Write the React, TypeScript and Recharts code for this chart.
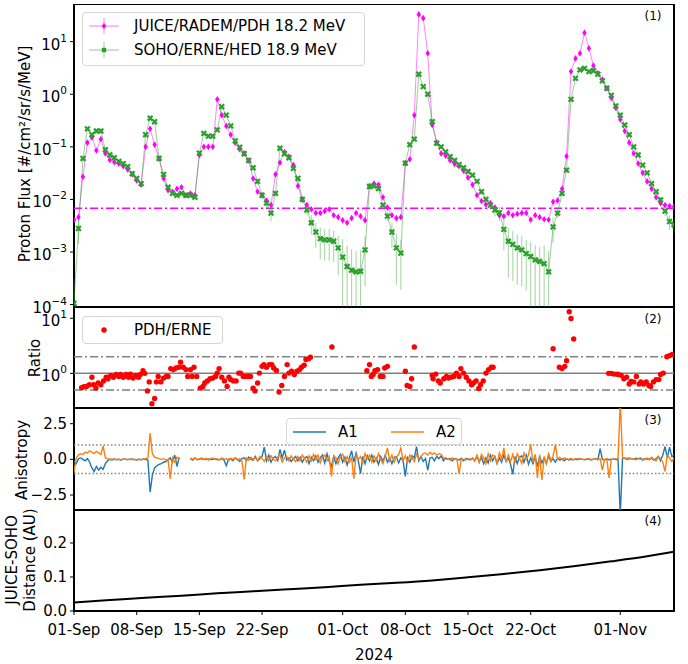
import React from 'react';
import {
  ComposedChart,
  Line,
  Scatter,
  XAxis,
  YAxis,
  ReferenceLine,
  ReferenceArea,
  ErrorBar,
} from 'recharts';

const FONT = '"DejaVu Sans", "Liberation Sans", sans-serif';

// ---------- Panel 1: proton flux ----------
const fluxDays = Array.from({ length: 135 }, (_, i) => i * 0.5); // days since 01-Sep-2024
const pdhFlux = [
  4.1e-3, 4.6e-3, 0.027, 0.12, 0.15, 0.085, 0.14, 0.075, 0.056, 0.051,
  0.048, 0.043, 0.037, 0.03, 0.023, 0.019, 0.1, 0.22, 0.11, 0.06,
  0.025, 0.015, 0.014, 0.016, 0.017, 0.012, 0.013, 0.012, 0.07, 0.1,
  0.1, 0.1, 0.8, 0.4, 0.25, 0.17, 0.12, 0.09, 0.075, 0.055,
  0.025, 0.014, 0.012, 0.0095, 0.0078, 0.03, 0.05, 0.08, 0.065, 0.045,
  0.018, 0.01, 0.0078, 0.0065, 0.0055, 0.0055, 0.006, 0.0065, 0.005, 0.0046,
  0.004, 0.0036, 0.0044, 0.0055, 0.0048, 0.004, 0.018, 0.02, 0.019, 0.011,
  0.007, 0.005, 0.0044, 0.0046, 0.049, 0.058, 0.4, 33, 28, 6,
  0.26, 0.12, 0.075, 0.068, 0.055, 0.047, 0.043, 0.035, 0.026, 0.019,
  0.012, 0.0093, 0.008, 0.0085, 0.007, 0.005, 0.0048, 0.0055, 0.005, 0.0053,
  0.0055, 0.0055, 0.0041, 0.005, 0.0046, 0.0042, 0.0041, 0.009, 0.0095, 0.016,
  0.066, 2.7, 4.8, 6.0, 14.8, 7.5, 3.5, 2.5, 1.9, 1.3,
  0.85, 0.55, 0.33, 0.2, 0.12, 0.075, 0.048, 0.032, 0.022, 0.016,
  0.011, 0.0085, 0.0078, 0.0075, 0.0073,
];
const erneFlux = [
  1.05e-4, 2.8e-3, 0.06, 0.22, 0.17, 0.2, 0.2, 0.088, 0.07, 0.062,
  0.053, 0.048, 0.042, 0.031, 0.025, 0.02, 0.17, 0.35, 0.3, 0.06,
  0.03, 0.017, 0.013, 0.012, 0.013, 0.012, 0.012, 0.011, 0.076, 0.18,
  0.16, 0.16, 0.21, 0.58, 0.4, 0.25, 0.13, 0.098, 0.074, 0.055,
  0.04, 0.022, 0.012, 0.0085, 0.0055, 0.013, 0.094, 0.074, 0.062, 0.039,
  0.025, 0.01, 0.0063, 0.0036, 0.0024, 0.0018, 0.0017, 0.0017, 0.0016, 0.0012,
  8e-4, 5.3e-4, 4.5e-4, 4.2e-4, 4.3e-4, 1.1e-3, 0.0176, 0.018, 0.016, 0.0078,
  0.0048, 0.0024, 0.0012, 9.5e-4, 0.049, 0.11, 0.14, 2.4, 1.4, 1.0,
  0.3, 0.117, 0.1, 0.08, 0.065, 0.055, 0.046, 0.04, 0.034, 0.029,
  0.022, 0.014, 0.01, 0.0078, 0.0063, 0.0056, 0.0027, 0.0016, 0.0014, 0.0012,
  0.0011, 9.3e-4, 8.2e-4, 7.1e-4, 6.6e-4, 6.0e-4, 4.2e-4, 0.003, 0.0055, 0.013,
  0.036, 0.8, 2.0, 2.9, 3.1, 2.7, 2.8, 2.4, 1.8, 1.3,
  0.95, 0.6, 0.4, 0.26, 0.17, 0.1, 0.07, 0.045, 0.032, 0.02,
  0.014, 0.0098, 0.006, 0.0038, 0.0033,
];
const erneRelErr = [
  2, 0.5, 0.05, 0.05, 0.05, 0.05, 0.05, 0.05, 0.05, 0.05,
  0.05, 0.05, 0.05, 0.05, 0.05, 0.05, 0.05, 0.05, 0.05, 0.05,
  0.05, 0.05, 0.05, 0.05, 0.05, 0.05, 0.05, 0.05, 0.05, 0.05,
  0.05, 0.05, 0.05, 0.05, 0.05, 0.05, 0.05, 0.05, 0.05, 0.05,
  0.05, 0.1, 0.15, 0.25, 0.3, 0.1, 0.05, 0.05, 0.05, 0.05,
  0.05, 0.15, 0.2, 0.4, 0.5, 0.6, 0.6, 0.6, 0.6, 0.7,
  1.2, 1.5, 1.5, 1.5, 1.5, 0.8, 0.05, 0.05, 0.05, 0.1,
  0.2, 0.5, 0.8, 0.8, 0.05, 0.05, 0.05, 0.05, 0.05, 0.05,
  0.05, 0.05, 0.05, 0.05, 0.05, 0.05, 0.05, 0.05, 0.05, 0.05,
  0.05, 0.1, 0.15, 0.2, 0.25, 0.3, 0.6, 0.8, 0.8, 0.8,
  0.8, 0.8, 0.9, 0.9, 0.9, 1.2, 1.5, 0.5, 0.2, 0.1,
  0.05, 0.05, 0.05, 0.05, 0.05, 0.05, 0.05, 0.05, 0.05, 0.05,
  0.05, 0.05, 0.05, 0.05, 0.05, 0.05, 0.05, 0.05, 0.05, 0.05,
  0.1, 0.15, 0.2, 0.3, 0.3,
];
const pdhBackground = 0.0068;
const fluxTicks = [1e-4, 1e-3, 1e-2, 1e-1, 1, 10];
const FLUX_MIN = 9e-5;
const FLUX_MAX = 52;

// ---------- Panel 2: ratio ----------
const ratioDays = [
  0.85, 1.1, 1.4, 1.7, 2.0, 2.2, 2.45, 2.7, 3.0, 3.3, 3.6, 3.8, 4.1, 4.4, 4.7, 5.0, 5.2, 5.5, 5.8, 6.1,
  6.3, 6.6, 6.9, 7.2, 7.4, 7.7, 7.9, 8.2, 8.4, 8.7, 9.0, 9.2, 9.4, 9.7, 10.0, 10.3, 10.5, 10.8, 11.1, 11.4,
  11.7, 11.9, 12.2, 12.5, 12.7, 13.0, 13.2, 13.4, 13.7, 14.1, 14.4, 14.6, 14.9, 15.2, 15.5, 15.8, 16.0, 16.2, 16.5, 16.8,
  17.1, 17.3, 17.5, 17.8, 18.1, 18.4, 18.6, 18.9, 19.2, 19.5, 19.7, 20.0, 20.2, 20.5, 20.7, 21.0, 21.2, 21.5, 21.8, 22.1,
  22.3, 22.6, 22.9, 23.2, 23.5, 23.8, 24.0, 24.3, 24.6, 24.9, 25.2, 25.4, 25.7, 25.9, 26.2, 26.4, 28.8,
  32.7, 33.0, 33.2, 33.4, 33.6, 33.9, 34.2, 34.5, 34.7, 35.0,
  37.0, 37.2, 37.5, 37.7, 38.0,
  40.0, 40.1, 40.4, 40.7, 40.9, 41.3, 41.6, 41.8, 42.1, 42.4, 42.7, 43.0, 43.2, 43.5, 43.8, 44.1, 44.4, 44.6, 44.9, 45.2,
  45.4, 45.7, 46.0, 46.3, 46.6, 46.8,
  53.5, 54.2, 54.5, 54.8, 55.0, 55.3, 55.5, 55.8,
  59.7, 60.0, 60.3, 60.6, 60.8, 61.1, 61.4, 61.7, 62.0, 62.2, 62.5, 62.8, 63.1, 63.3, 63.6, 63.9, 64.2, 64.4, 64.7, 65.0,
  65.3, 65.5, 65.8, 66.2, 66.5, 66.8,
];
const ratioValues = [
  0.55, 0.57, 0.58, 0.62, 0.85, 0.62, 0.54, 0.67, 0.62, 0.73, 0.85, 0.8, 0.92, 0.85, 0.95, 0.88, 0.95, 0.85, 0.95, 0.85,
  0.97, 0.82, 0.92, 0.85, 0.95, 1.12, 1.0, 0.48, 0.7, 0.28, 0.35, 0.7, 0.88, 0.7, 0.82, 0.88, 0.88, 1.22, 1.17, 1.25,
  1.29, 1.59, 1.29, 1.17, 0.88, 1.17, 0.88, 1.29, 0.88, 0.54, 0.58, 0.67, 0.73, 0.8, 0.82, 0.88, 1.01, 1.22, 0.85, 0.73,
  0.58, 0.85, 0.77, 0.73, 0.73, 1.01, 1.01, 0.88, 0.88, 0.88, 0.88, 0.54, 0.48, 0.67, 1.01, 1.34, 1.44, 1.29, 1.44, 1.44,
  1.25, 1.13, 0.46, 0.6, 0.88, 1.44, 1.01, 1.09, 0.95, 1.09, 1.17, 1.29, 1.4, 1.78, 1.85, 1.96, 3.0,
  1.12, 1.44, 0.88, 0.95, 1.12, 1.17, 0.88, 0.88, 1.25, 1.34,
  1.09, 0.6, 0.58, 0.8, 3.0,
  0.92, 0.8, 0.97, 0.73, 0.67, 0.8, 0.88, 0.82, 0.85, 0.88, 1.01, 0.88, 1.22, 1.01, 0.85, 0.73, 0.62, 0.67, 0.73, 0.53,
  0.62, 0.73, 1.01, 1.17, 1.29, 1.29,
  2.8, 1.29, 1.22, 1.34, 1.7, 13.1, 9.9, 4.2,
  1.0, 1.0, 0.97, 0.97, 0.95, 0.92, 0.8, 0.85, 0.64, 0.71, 0.7, 0.88, 0.64, 0.7, 0.64, 0.7, 0.6, 0.58, 0.7, 0.77,
  0.77, 0.95, 1.01, 2.0, 2.1, 2.2,
];
const ratioLevelHigh = 2;
const ratioLevelUnity = 1;
const ratioLevelLow = 0.5;
const ratioTicks = [1, 10];
const RATIO_MIN = 0.235;
const RATIO_MAX = 16;

// ---------- Panel 3: anisotropy ----------
const anisoDays = Array.from({ length: 269 }, (_, i) => i * 0.25);
const a1 = [
  -0.1, -0.3, 0.05, 0.1,
  0.0, -0.1, 0.05, -0.2,
  -0.6, -0.85, -0.5, -0.75,
  -0.55, -0.7, -0.3, -0.1,
  0.0, -0.05, 0.02, -0.03,
  0.0, -0.04, 0.02, 0.0,
  -0.03, 0.02, -0.02, 0.0,
  -0.05, 0.0, -0.03, 0.02,
  0.0, -0.05, -2.3, -1.1,
  -0.6, -0.45, -0.35, -0.3,
  -0.2, -0.15, -0.05, 0.1,
  -0.2, 0.3, -0.5, 0.15,
  null, null, null, null,
  0.05, -0.05, 0.08, 0.0,
  0.0, 0.05, -0.02, 0.0,
  0.03, -0.02, 0.0, 0.05,
  -0.03, 0.0, 0.05, -0.05,
  -0.45, 0.0, 0.05, -0.1,
  0.1, 0.0, -0.15, 0.05,
  0.1, -0.1, 0.15, 0.0,
  -0.05, 0.2, -0.1, 0.05,
  0.2, 0.85, -0.1, 0.3,
  -0.2, 0.1, 0.2, -0.1,
  0.7, 0.1, 0.65, -0.05,
  0.1, -0.15, 0.05, 0.2,
  -0.1, 0.15, -0.2, 0.1,
  0.2, -0.3, 0.15, -0.1,
  0.25, -0.2, 0.1, 0.3,
  -0.25, 0.4, -0.15, -0.5,
  0.2, -0.3, 0.1, 0.35,
  -0.2, 0.15, -0.4, 0.1,
  0.6, -0.2, 0.45, -0.1,
  -1.0, 0.2, -0.3, 0.25,
  -0.1, 0.3, -0.2, 0.1,
  -0.35, 0.2, -0.15, 0.3,
  -0.2, 0.1, -0.3, 0.15,
  0.2, -0.25, 0.1, -0.1,
  -1.2, 0.1, -0.2, 0.25,
  0.1, 0.9, -0.1, 0.2,
  -0.15, 0.05, -0.75, 0.1,
  0.15, -0.1, 0.2, 0.05,
  0.25, -0.1, 0.1, 0.0,
  0.05, -0.1, 0.05, 0.0,
  -0.05, 0.08, -0.1, 0.05,
  0.0, -0.05, 0.1, -0.1,
  0.2, -0.2, 0.15, -0.3,
  0.1, -0.25, 0.3, -0.1,
  0.2, -0.3, 0.1, -0.2,
  0.3, -0.15, 0.1, -0.35,
  -1.05, 0.2, -0.3, 0.15,
  0.25, -0.2, 0.3, -0.35,
  0.1, -0.3, 0.2, -0.5,
  0.2, -0.25, 0.1, -0.3,
  0.25, -0.15, 0.05, -0.2,
  0.1, -0.05, 0.05, -0.1,
  0.05, -0.05, 0.0, -0.03,
  0.02, -0.02, 0.05, 0.0,
  -0.03, 0.0, 0.02, -0.05,
  0.0, 0.05, -0.02, 0.75,
  0.0, -0.05, 0.02, -0.03,
  0.0, 0.02, -0.02, 0.0,
  -3.9, 0.05, 0.1, 0.0,
  0.1, 0.05, 0.0, 0.08,
  0.05, 0.1, -0.05, 0.05,
  0.0, 0.05, 0.08, -0.05,
  0.05, 0.2, -0.1, 0.3,
  0.9, 0.1, 0.85, 0.2,
  0.3,
];
const a2 = [
  -0.9, 0.1, 0.3, 0.4,
  0.35, 0.5, 0.45, 0.6,
  0.5, 0.4, 0.55, 0.45,
  0.35, 0.95, 0.1, 0.05,
  0.0, 0.03, -0.02, 0.0,
  0.02, -0.03, 0.0, 0.02,
  0.0, -0.02, 0.03, -0.01,
  0.0, 0.02, -0.03, 0.0,
  0.05, 0.1, 1.85, 0.4,
  0.15, 0.1, 0.05, 0.0,
  0.05, -0.05, 0.0, -1.35,
  0.1, -0.2, 0.15, 0.0,
  null, null, null, null,
  0.1, 0.0, 0.12, -0.05,
  0.05, 0.1, 0.0, 0.08,
  -0.05, 0.05, 0.1, 0.0,
  0.05, -0.05, 0.1, 0.0,
  0.05, -0.1, 0.08, 0.0,
  0.1, -0.05, 0.05, -0.1,
  -1.4, 0.1, -0.05, 0.15,
  0.0, 0.1, -0.1, 0.2,
  0.05, -0.15, 0.2, -0.1,
  0.25, 0.0, -0.1, 0.15,
  0.3, -0.2, 0.1, 0.2,
  -0.1, 0.25, 0.0, -0.15,
  0.2, -0.1, 0.3, 0.05,
  -0.2, 0.25, -0.1, 0.35,
  0.0, 0.3, -0.25, 0.15,
  0.3, -0.1, 0.2, -1.2,
  0.25, 0.1, -0.3, 0.2,
  0.35, -0.15, 0.2, -0.2,
  0.1, -1.35, 0.3, 0.0,
  0.2, -0.25, 0.4, 0.05,
  0.3, -0.2, 0.25, -0.1,
  0.4, 0.0, -0.3, 0.2,
  0.8, -0.1, 0.3, -0.2,
  0.15, 0.35, 0.8, -0.1,
  0.25, -0.2, 0.3, 0.1,
  -0.15, 0.35, 0.05, 0.2,
  0.4, 0.45, 0.3, 0.5,
  0.35, 0.45, 0.3, 0.4,
  0.35, 0.1, 0.0, 0.05,
  -0.05, 0.1, 0.0, 0.05,
  -1.0, 0.05, 0.0, -0.05,
  0.08, 0.0, 0.05, -0.1,
  0.3, -0.2, 0.35, 0.1,
  -0.3, 0.4, -0.1, 0.3,
  0.2, -0.35, 0.45, 0.0,
  0.8, -0.2, 0.3, -0.15,
  0.35, -0.25, 0.4, 0.1,
  -0.3, 0.45, 0.0, 0.3,
  1.05, -0.2, 0.35, -1.3,
  0.3, -1.45, 0.2, -0.3,
  0.4, -0.1, 0.25, 1.05,
  0.0, 0.15, -0.05, 0.1,
  0.05, 0.0, 0.08, -0.03,
  0.03, 0.05, 0.0, 0.02,
  0.0, 0.03, 0.05, 0.0,
  0.02, 0.0, 0.04, 0.05,
  -0.75, 0.0, 0.05, -1.3,
  0.02, 0.0, 0.05, 0.03,
  4.0, 0.15, 0.05, 0.1,
  0.0, 0.05, 0.02, -0.03,
  0.05, 0.0, 0.03, -0.02,
  0.1, -0.05, 0.15, 0.0,
  -0.1, 0.2, 0.05, -0.2,
  -0.85, 0.3, 0.1, -0.15,
  0.1,
];
const anisoLimit = 1;
const anisoTicks = [-2.5, 0, 2.5];
const ANISO_MIN = -3.55;
const ANISO_MAX = 3.6;

// ---------- Panel 4: distance ----------
const distDays = [0, 4, 8, 12, 16, 20, 24, 28, 32, 36, 40, 44, 48, 52, 56, 60, 64, 67];
const distAU = [
  0.025, 0.032, 0.039, 0.045, 0.052, 0.058, 0.064, 0.07, 0.077, 0.083, 0.09, 0.099, 0.109, 0.12, 0.132,
  0.146, 0.161, 0.174,
];
const distTicks = [0, 0.1, 0.2];
const DIST_MIN = 0;
const DIST_MAX = 0.297;

// ---------- Shared x axis ----------
const DAY_MIN = 0;
const DAY_MAX = 67;
const dateTicks = [0, 7, 14, 21, 30, 37, 44, 51, 61];
const dateLabels = ['01-Sep', '08-Sep', '15-Sep', '22-Sep', '01-Oct', '08-Oct', '15-Oct', '22-Oct', '01-Nov'];

// ---------- tables ----------
const fluxTable = fluxDays.map((day, i) => {
  const v = erneFlux[i];
  const e = v * erneRelErr[i];
  return { day, pdh: pdhFlux[i], erne: v, erneErr: [Math.min(e, v - FLUX_MIN), e] };
});
const ratioTable = ratioDays.map((day, i) => ({ day, ratio: ratioValues[i] }));
const anisoTable = anisoDays.map((day, i) => ({ day, a1: a1[i], a2: a2[i] }));
const distTable = distDays.map((day, i) => ({ day, dist: distAU[i] }));

const MAGENTA = '#ff00ff';
const GREEN = '#2ca02c';
const BLUE = '#1f77b4';
const ORANGE = '#ff7f0e';
const GRAY = '#808080';
const MARGIN = { top: 0, right: 14, bottom: 0, left: 0 };
const DASHDOT = '8 3 2 3';

const minus = (s: string) => s.replace('-', '\u2212');

function PowTick(props: any) {
  const { x, y, payload } = props;
  const e = Math.round(Math.log10(payload.value));
  return (
    <text x={x} y={y + 3} textAnchor="end" dominantBaseline="central" fontSize={15} fontFamily={FONT} fill="#000">
      10
      <tspan dy={-7} fontSize={10.5}>
        {minus(String(e))}
      </tspan>
    </text>
  );
}

function NumTick(props: any) {
  const { x, y, payload } = props;
  return (
    <text x={x} y={y} textAnchor="end" dominantBaseline="central" fontSize={15} fontFamily={FONT} fill="#000">
      {minus(payload.value.toFixed(1))}
    </text>
  );
}

function DateTick(props: any) {
  const { x, y, payload } = props;
  const idx = dateTicks.indexOf(payload.value);
  return (
    <text x={x} y={y + 13} textAnchor="middle" dominantBaseline="central" fontSize={15} fontFamily={FONT} fill="#000">
      {dateLabels[idx]}
    </text>
  );
}

const pdhDot = (p: any) => {
  const { cx, cy, index } = p;
  if (cx == null || cy == null || !isFinite(cy)) return <g key={`p${index}`} />;
  return (
    <path
      key={`p${index}`}
      d={`M${cx},${cy - 3.3}L${cx + 2.2},${cy}L${cx},${cy + 3.3}L${cx - 2.2},${cy}Z`}
      fill={MAGENTA}
    />
  );
};

const erneDot = (p: any) => {
  const { cx, cy, index } = p;
  if (cx == null || cy == null || !isFinite(cy)) return <g key={`e${index}`} />;
  const s = 2.4;
  return (
    <path
      key={`e${index}`}
      d={`M${cx - s},${cy - s}L${cx + s},${cy + s}M${cx + s},${cy - s}L${cx - s},${cy + s}`}
      stroke={GREEN}
      strokeWidth={2.2}
      fill="none"
    />
  );
};

const ratioDot = (p: any) => {
  const { cx, cy } = p;
  return <circle cx={cx} cy={cy} r={2.7} fill="#ff0000" />;
};

const frame = (y1: number, y2: number) => (
  <ReferenceArea
    x1={DAY_MIN}
    x2={DAY_MAX}
    y1={y1}
    y2={y2}
    fill="none"
    stroke="#000"
    strokeWidth={2}
    ifOverflow="visible"
  />
);

const yAxisCommon = {
  width: 74,
  tickSize: 4,
  tickMargin: 3,
  axisLine: false,
  tickLine: { stroke: '#000', strokeWidth: 1 },
  interval: 0 as const,
  allowDataOverflow: true,
};

function Panel1() {
  return (
    <ComposedChart width={688} height={313} data={fluxTable} margin={{ ...MARGIN, bottom: 10 }}>
      <XAxis type="number" dataKey="day" domain={[DAY_MIN, DAY_MAX]} hide allowDataOverflow />
      <YAxis {...yAxisCommon} scale="log" domain={[FLUX_MIN, FLUX_MAX]} ticks={fluxTicks} tick={PowTick} />
      <ReferenceLine y={pdhBackground} stroke={MAGENTA} strokeWidth={1.5} strokeDasharray={DASHDOT} />
      <Line
        dataKey="pdh"
        stroke={MAGENTA}
        strokeOpacity={0.55}
        strokeWidth={0.9}
        dot={pdhDot}
        activeDot={false}
        isAnimationActive={false}
      />
      <Line
        dataKey="erne"
        stroke={GREEN}
        strokeOpacity={0.55}
        strokeWidth={0.9}
        dot={erneDot}
        activeDot={false}
        isAnimationActive={false}
      >
        <ErrorBar dataKey="erneErr" direction="y" width={0} stroke="rgba(44,160,44,0.45)" strokeWidth={1} />
      </Line>
      {frame(FLUX_MIN, FLUX_MAX)}
    </ComposedChart>
  );
}

function Panel2() {
  return (
    <ComposedChart width={688} height={101} data={ratioTable} margin={MARGIN}>
      <XAxis type="number" dataKey="day" domain={[DAY_MIN, DAY_MAX]} hide allowDataOverflow />
      <YAxis
        {...yAxisCommon}
        dataKey="ratio"
        scale="log"
        domain={[RATIO_MIN, RATIO_MAX]}
        ticks={ratioTicks}
        tick={PowTick}
      />
      <ReferenceLine y={ratioLevelHigh} stroke={GRAY} strokeWidth={1.5} strokeDasharray={DASHDOT} />
      <ReferenceLine y={ratioLevelUnity} stroke={GRAY} strokeWidth={1.5} />
      <ReferenceLine y={ratioLevelLow} stroke={GRAY} strokeWidth={1.5} strokeDasharray={DASHDOT} />
      <Scatter dataKey="ratio" fill="#ff0000" shape={ratioDot} isAnimationActive={false} />
      {frame(RATIO_MIN, RATIO_MAX)}
    </ComposedChart>
  );
}

function Panel3() {
  return (
    <ComposedChart width={688} height={102} data={anisoTable} margin={MARGIN}>
      <XAxis type="number" dataKey="day" domain={[DAY_MIN, DAY_MAX]} hide allowDataOverflow />
      <YAxis {...yAxisCommon} domain={[ANISO_MIN, ANISO_MAX]} ticks={anisoTicks} tick={NumTick} />
      <ReferenceLine y={anisoLimit} stroke={GRAY} strokeWidth={1.5} strokeDasharray="1.5 2.2" />
      <ReferenceLine y={-anisoLimit} stroke={GRAY} strokeWidth={1.5} strokeDasharray="1.5 2.2" />
      <Line dataKey="a1" stroke={BLUE} strokeWidth={1.4} dot={false} activeDot={false} isAnimationActive={false} />
      <Line dataKey="a2" stroke={ORANGE} strokeWidth={1.4} dot={false} activeDot={false} isAnimationActive={false} />
      {frame(ANISO_MIN, ANISO_MAX)}
    </ComposedChart>
  );
}

function Panel4() {
  return (
    <ComposedChart width={688} height={154} data={distTable} margin={MARGIN}>
      <XAxis
        type="number"
        dataKey="day"
        domain={[DAY_MIN, DAY_MAX]}
        ticks={dateTicks}
        interval={0}
        tick={DateTick}
        tickSize={4}
        tickMargin={2}
        axisLine={false}
        tickLine={{ stroke: '#000', strokeWidth: 1 }}
        height={53}
        allowDataOverflow
      />
      <YAxis {...yAxisCommon} domain={[DIST_MIN, DIST_MAX]} ticks={distTicks} tick={NumTick} />
      <Line
        dataKey="dist"
        type="monotone"
        stroke="#000"
        strokeWidth={2}
        dot={false}
        activeDot={false}
        isAnimationActive={false}
      />
      {frame(DIST_MIN, DIST_MAX)}
    </ComposedChart>
  );
}

const legendBox: React.CSSProperties = {
  position: 'absolute',
  border: '1px solid #d5d5d5',
  borderRadius: 4,
  background: 'rgba(255,255,255,0.8)',
  boxSizing: 'border-box',
  fontFamily: FONT,
  fontSize: 15,
  color: '#000',
};

function Overlay() {
  return (
    <svg width={688} height={664} style={{ position: 'absolute', left: 0, top: 0, pointerEvents: 'none' }}>
      <g fontFamily={FONT} fill="#000">
        <text x={25} y={154} fontSize={15} textAnchor="middle" dominantBaseline="central" transform="rotate(-90 25 154)">
          Proton Flux [#/cm²/sr/s/MeV]
        </text>
        <text x={35} y={358} fontSize={15} textAnchor="middle" dominantBaseline="central" transform="rotate(-90 35 358)">
          Ratio
        </text>
        <text x={22} y={460} fontSize={15} textAnchor="middle" dominantBaseline="central" transform="rotate(-90 22 460)">
          Anisotropy
        </text>
        <text x={12} y={560} fontSize={15} textAnchor="middle" dominantBaseline="central" transform="rotate(-90 12 560)">
          JUICE-SOHO
        </text>
        <text x={30} y={560} fontSize={15} textAnchor="middle" dominantBaseline="central" transform="rotate(-90 30 560)">
          Distance (AU)
        </text>
        <text x={374} y={655} fontSize={15} textAnchor="middle" dominantBaseline="central">
          2024
        </text>
        <text x={653} y={16} fontSize={12} textAnchor="middle" dominantBaseline="central">(1)</text>
        <text x={653} y={319} fontSize={12} textAnchor="middle" dominantBaseline="central">(2)</text>
        <text x={653} y={420} fontSize={12} textAnchor="middle" dominantBaseline="central">(3)</text>
        <text x={653} y={521} fontSize={12} textAnchor="middle" dominantBaseline="central">(4)</text>
      </g>
    </svg>
  );
}

function Legends() {
  return (
    <>
      <div style={{ ...legendBox, left: 82, top: 12, width: 283, height: 54 }}>
        <svg width={40} height={54} style={{ position: 'absolute', left: 0, top: 0 }}>
          <line x1={6} y1={13} x2={36} y2={13} stroke={MAGENTA} strokeOpacity={0.55} strokeWidth={1} />
          <line x1={21} y1={5} x2={21} y2={21} stroke={MAGENTA} strokeOpacity={0.5} strokeWidth={1} />
          <path d="M21,9.7L23.2,13L21,16.3L18.8,13Z" fill={MAGENTA} />
          <line x1={6} y1={37} x2={36} y2={37} stroke={GREEN} strokeOpacity={0.55} strokeWidth={1} />
          <line x1={21} y1={29} x2={21} y2={45} stroke={GREEN} strokeOpacity={0.5} strokeWidth={1} />
          <rect x={18.8} y={34.8} width={4.4} height={4.4} fill={GREEN} />
        </svg>
        <div style={{ position: 'absolute', left: 51, top: 3, lineHeight: '20px', whiteSpace: 'nowrap' }}>
          JUICE/RADEM/PDH 18.2 MeV
        </div>
        <div style={{ position: 'absolute', left: 51, top: 27, lineHeight: '20px', whiteSpace: 'nowrap' }}>
          SOHO/ERNE/HED 18.9 MeV
        </div>
      </div>
      <div style={{ ...legendBox, left: 82, top: 316, width: 141, height: 28 }}>
        <svg width={40} height={28} style={{ position: 'absolute', left: 0, top: 0 }}>
          <circle cx={21} cy={13} r={2.7} fill="#ff0000" />
        </svg>
        <div style={{ position: 'absolute', left: 51, top: 3, lineHeight: '20px', whiteSpace: 'nowrap' }}>
          PDH/ERNE
        </div>
      </div>
      <div style={{ ...legendBox, left: 286, top: 418, width: 176, height: 27 }}>
        <svg width={176} height={27} style={{ position: 'absolute', left: 0, top: 0 }}>
          <line x1={6} y1={13} x2={39} y2={13} stroke={BLUE} strokeWidth={1.5} />
          <line x1={104} y1={13} x2={137} y2={13} stroke={ORANGE} strokeWidth={1.5} />
        </svg>
        <div style={{ position: 'absolute', left: 51, top: 3, lineHeight: '20px' }}>A1</div>
        <div style={{ position: 'absolute', left: 149, top: 3, lineHeight: '20px' }}>A2</div>
      </div>
    </>
  );
}

export default function App() {
  return (
    <div style={{ position: 'absolute', left: 0, top: 0, width: 688, height: 664, background: '#fff', fontFamily: FONT }}>
      <div style={{ position: 'absolute', left: 0, top: 4 }}>
        <Panel1 />
      </div>
      <div style={{ position: 'absolute', left: 0, top: 307 }}>
        <Panel2 />
      </div>
      <div style={{ position: 'absolute', left: 0, top: 408 }}>
        <Panel3 />
      </div>
      <div style={{ position: 'absolute', left: 0, top: 510 }}>
        <Panel4 />
      </div>
      <Overlay />
      <Legends />
    </div>
  );
}
